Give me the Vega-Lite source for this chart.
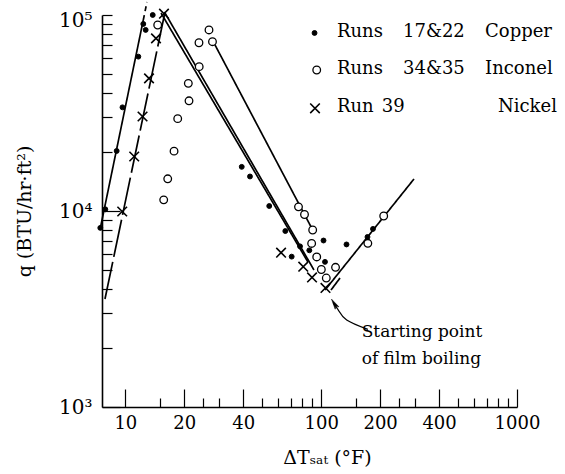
{
  "$schema": "https://vega.github.io/schema/vega-lite/v6.json",
  "width": 415,
  "height": 392,
  "autosize": {"type": "none"},
  "padding": {"left": 102, "top": 15, "right": 48, "bottom": 67},
  "background": "white",
  "config": {"view": {"stroke": null}, "font": "DejaVu Serif"},
  "datasets": {
    "points": [
      {"s": "copper", "x": 7.45, "y": 8200},
      {"s": "copper", "x": 7.9, "y": 10200},
      {"s": "copper", "x": 9.03, "y": 20240},
      {"s": "copper", "x": 9.67, "y": 33800},
      {"s": "copper", "x": 11.65, "y": 61300},
      {"s": "copper", "x": 12.35, "y": 90000},
      {"s": "copper", "x": 12.7, "y": 83900},
      {"s": "copper", "x": 13.8, "y": 100000},
      {"s": "copper", "x": 39.3, "y": 16800},
      {"s": "copper", "x": 43.3, "y": 15000},
      {"s": "copper", "x": 54.3, "y": 10600},
      {"s": "copper", "x": 65.6, "y": 7900},
      {"s": "copper", "x": 78.0, "y": 6600},
      {"s": "copper", "x": 70.7, "y": 5850},
      {"s": "copper", "x": 87.0, "y": 6300},
      {"s": "copper", "x": 104.6, "y": 5500},
      {"s": "copper", "x": 102.8, "y": 7070},
      {"s": "copper", "x": 134.7, "y": 6750},
      {"s": "copper", "x": 172.4, "y": 7370},
      {"s": "copper", "x": 183.9, "y": 8100},
      {"s": "inconel", "x": 14.63, "y": 88900},
      {"s": "inconel", "x": 15.7, "y": 11400},
      {"s": "inconel", "x": 16.46, "y": 14600},
      {"s": "inconel", "x": 17.73, "y": 20200},
      {"s": "inconel", "x": 18.51, "y": 29600},
      {"s": "inconel", "x": 21.14, "y": 36500},
      {"s": "inconel", "x": 20.97, "y": 44800},
      {"s": "inconel", "x": 23.83, "y": 54500},
      {"s": "inconel", "x": 23.77, "y": 72200},
      {"s": "inconel", "x": 26.74, "y": 83900},
      {"s": "inconel", "x": 27.86, "y": 73100},
      {"s": "inconel", "x": 76.6, "y": 10500},
      {"s": "inconel", "x": 82.2, "y": 9600},
      {"s": "inconel", "x": 90.5, "y": 8000},
      {"s": "inconel", "x": 89.4, "y": 6830},
      {"s": "inconel", "x": 94.9, "y": 5830},
      {"s": "inconel", "x": 100.2, "y": 5030},
      {"s": "inconel", "x": 106.2, "y": 4550},
      {"s": "inconel", "x": 118.4, "y": 5160},
      {"s": "inconel", "x": 173.1, "y": 6840},
      {"s": "inconel", "x": 208.6, "y": 9430},
      {"s": "nickel", "x": 9.64, "y": 9940},
      {"s": "nickel", "x": 11.1, "y": 18970},
      {"s": "nickel", "x": 12.24, "y": 30350},
      {"s": "nickel", "x": 13.21, "y": 47500},
      {"s": "nickel", "x": 14.34, "y": 76000},
      {"s": "nickel", "x": 15.75, "y": 101500},
      {"s": "nickel", "x": 62.4, "y": 6130},
      {"s": "nickel", "x": 81.0, "y": 5200},
      {"s": "nickel", "x": 89.8, "y": 4580},
      {"s": "nickel", "x": 105.2, "y": 4050}
    ],
    "legendsym": [
      {"s": "copper", "x": 92.5, "y": 80960},
      {"s": "inconel", "x": 94.9, "y": 52400},
      {"s": "nickel", "x": 93.0, "y": 33420}
    ],
    "lines": [
      {"id": "L1", "style": "solid", "o": 1, "x": 7.42, "y": 8000},
      {"id": "L1", "style": "solid", "o": 2, "x": 12.35, "y": 94300},
      {"id": "L1d", "style": "dash", "o": 1, "x": 12.35, "y": 94300},
      {"id": "L1d", "style": "dash", "o": 2, "x": 12.9, "y": 116500},
      {"id": "L2", "style": "longdash", "o": 1, "x": 7.87, "y": 3556},
      {"id": "L2", "style": "longdash", "o": 2, "x": 15.94, "y": 103600},
      {"id": "L3a", "style": "solid", "o": 1, "x": 15.21, "y": 102400},
      {"id": "L3a", "style": "solid", "o": 2, "x": 85.6, "y": 5490},
      {"id": "L3b", "style": "solid", "o": 1, "x": 15.94, "y": 102400},
      {"id": "L3b", "style": "solid", "o": 2, "x": 91.9, "y": 5000},
      {"id": "L4", "style": "solid", "o": 1, "x": 28.12, "y": 73100},
      {"id": "L4", "style": "solid", "o": 2, "x": 90.5, "y": 8000},
      {"id": "L5", "style": "solid", "o": 1, "x": 104.6, "y": 3950},
      {"id": "L5", "style": "solid", "o": 2, "x": 297.9, "y": 14570},
      {"id": "L6", "style": "solid", "o": 1, "x": 112.2, "y": 3950},
      {"id": "L6", "style": "solid", "o": 2, "x": 124.8, "y": 4550}
    ],
    "arrow": [
      {"o": 1, "x": 173.1, "y": 2490},
      {"o": 2, "x": 135.0, "y": 2780},
      {"o": 3, "x": 122.3, "y": 3125},
      {"o": 4, "x": 115.3, "y": 3390}
    ],
    "arrowhead": [
      {"x": 116.7, "y": 3370}
    ],
    "legendtexts": [
      {"t": "Runs", "x": 120.4, "y": 77670},
      {"t": "17&22", "x": 261.7, "y": 77670},
      {"t": "Copper", "x": 686.6, "y": 77670},
      {"t": "Runs", "x": 120.4, "y": 50000},
      {"t": "34&35", "x": 261.7, "y": 50000},
      {"t": "Inconel", "x": 686.6, "y": 50000},
      {"t": "Run", "x": 120.4, "y": 31810},
      {"t": "39", "x": 204, "y": 31810},
      {"t": "Nickel", "x": 800, "y": 31810}
    ],
    "notes": [
      {"t": "Starting point", "x": 161, "y": 2276},
      {"t": "of film boiling", "x": 161, "y": 1657}
    ]
  },
  "encoding": {
    "x": {
      "field": "x",
      "type": "quantitative",
      "scale": {"type": "log", "domain": [7.6, 1000], "nice": false, "zero": false},
      "axis": {
        "values": [10, 15, 20, 25, 30, 40, 50, 60, 70, 80, 90, 100, 150, 200, 250, 300, 400, 500, 600, 700, 800, 900, 1000],
        "labelExpr": "indexof([10,20,40,100,200,400,1000], datum.value) >= 0 ? '' + datum.value : ''",
        "tickSize": {"condition": {"test": "indexof([10,20,40,100,200,400,1000], datum.value) >= 0", "value": -18}, "value": -9},
        "tickColor": "black",
        "tickWidth": 1.2,
        "domainColor": "black",
        "domainWidth": 1.6,
        "grid": false,
        "labelPadding": 25,
        "labelFont": "DejaVu Serif",
        "labelFontSize": 18,
        "labelColor": "black",
        "labelFlush": false,
        "labelOverlap": false,
        "title": "ΔTₛₐₜ (°F)",
        "titleFont": "DejaVu Serif",
        "titleFontSize": 19,
        "titleFontWeight": "normal",
        "titleColor": "black",
        "titleX": 225,
        "titleY": 50,
        "titleBaseline": "middle",
        "titleAlign": "center"
      }
    },
    "y": {
      "field": "y",
      "type": "quantitative",
      "scale": {"type": "log", "domain": [1000, 100000], "nice": false, "zero": false},
      "axis": {
        "values": [1000, 2000, 3000, 4000, 5000, 6000, 7000, 8000, 9000, 10000, 20000, 30000, 40000, 50000, 60000, 70000, 80000, 90000, 100000],
        "labelExpr": "datum.value == 1000 ? '10³' : datum.value == 10000 ? '10⁴' : datum.value == 100000 ? '10⁵' : ''",
        "tickSize": {"condition": {"test": "datum.value == 10000 || datum.value == 1000", "value": -18}, "value": -10},
        "labelPadding": {"condition": {"test": "datum.value == 100000", "value": 20}, "value": 28},
        "labelOffset": {"condition": {"test": "datum.value == 100000", "value": 5}, "value": 0},
        "tickColor": "black",
        "tickWidth": 1.2,
        "domainColor": "black",
        "domainWidth": 1.6,
        "grid": false,
        "labelFont": "DejaVu Serif",
        "labelFontSize": 20,
        "labelColor": "black",
        "labelBaseline": "middle",
        "labelFlush": false,
        "labelOverlap": false,
        "title": "q (BTU/hr·ft²)",
        "titleFont": "DejaVu Serif",
        "titleFontSize": 19,
        "titleFontWeight": "normal",
        "titleColor": "black",
        "titleX": -78,
        "titleY": 196,
        "titleAngle": -90,
        "titleBaseline": "middle",
        "titleAlign": "center"
      }
    }
  },
  "layer": [
    {
      "data": {"name": "lines"},
      "mark": {"type": "line", "stroke": "black", "strokeWidth": 1.7, "clip": false},
      "encoding": {
        "detail": {"field": "id", "type": "nominal"},
        "order": {"field": "o", "type": "quantitative"},
        "strokeDash": {
          "field": "style",
          "type": "nominal",
          "scale": {"domain": ["solid", "dash", "longdash"], "range": [[1, 0], [5, 4], [38, 5]]},
          "legend": null
        }
      }
    },
    {
      "data": {"name": "arrow"},
      "mark": {"type": "line", "stroke": "black", "strokeWidth": 1.3, "interpolate": "natural", "clip": false},
      "encoding": {"order": {"field": "o", "type": "quantitative"}}
    },
    {
      "data": {"name": "arrowhead"},
      "mark": {"type": "point", "shape": "M0,-1L0.42,1L0,0.55L-0.42,1Z", "angle": 328, "size": 110, "filled": true, "fill": "black", "stroke": "black", "strokeWidth": 0.5, "opacity": 1, "clip": false}
    },
    {
      "data": {"name": "points"},
      "mark": {"type": "point", "stroke": "black", "opacity": 1, "clip": false},
      "encoding": {
        "shape": {"field": "s", "type": "nominal", "scale": {"domain": ["copper", "inconel", "nickel"], "range": ["circle", "circle", "M-1,-1L1,1M1,-1L-1,1"]}, "legend": null},
        "fill": {"field": "s", "type": "nominal", "scale": {"domain": ["copper", "inconel", "nickel"], "range": ["black", "white", "transparent"]}, "legend": null},
        "size": {"field": "s", "type": "nominal", "scale": {"domain": ["copper", "inconel", "nickel"], "range": [24, 92, 115]}, "legend": null},
        "strokeWidth": {"field": "s", "type": "nominal", "scale": {"domain": ["copper", "inconel", "nickel"], "range": [1, 1.6, 1.4]}, "legend": null}
      }
    },
    {
      "data": {"name": "legendsym"},
      "mark": {"type": "point", "stroke": "black", "opacity": 1, "clip": false},
      "encoding": {
        "shape": {"field": "s", "type": "nominal", "scale": {"domain": ["copper", "inconel", "nickel"], "range": ["circle", "circle", "M-1,-1L1,1M1,-1L-1,1"]}, "legend": null},
        "fill": {"field": "s", "type": "nominal", "scale": {"domain": ["copper", "inconel", "nickel"], "range": ["black", "white", "transparent"]}, "legend": null},
        "size": {"field": "s", "type": "nominal", "scale": {"domain": ["copper", "inconel", "nickel"], "range": [24, 92, 115]}, "legend": null},
        "strokeWidth": {"field": "s", "type": "nominal", "scale": {"domain": ["copper", "inconel", "nickel"], "range": [1, 1.6, 1.4]}, "legend": null}
      }
    },
    {
      "data": {"name": "legendtexts"},
      "mark": {"type": "text", "align": "left", "baseline": "alphabetic", "font": "DejaVu Serif", "fontSize": 18, "color": "black", "clip": false},
      "encoding": {"text": {"field": "t", "type": "nominal"}}
    },
    {
      "data": {"name": "notes"},
      "mark": {"type": "text", "align": "left", "baseline": "alphabetic", "font": "DejaVu Serif", "fontSize": 17, "color": "black", "clip": false},
      "encoding": {"text": {"field": "t", "type": "nominal"}}
    }
  ]
}
